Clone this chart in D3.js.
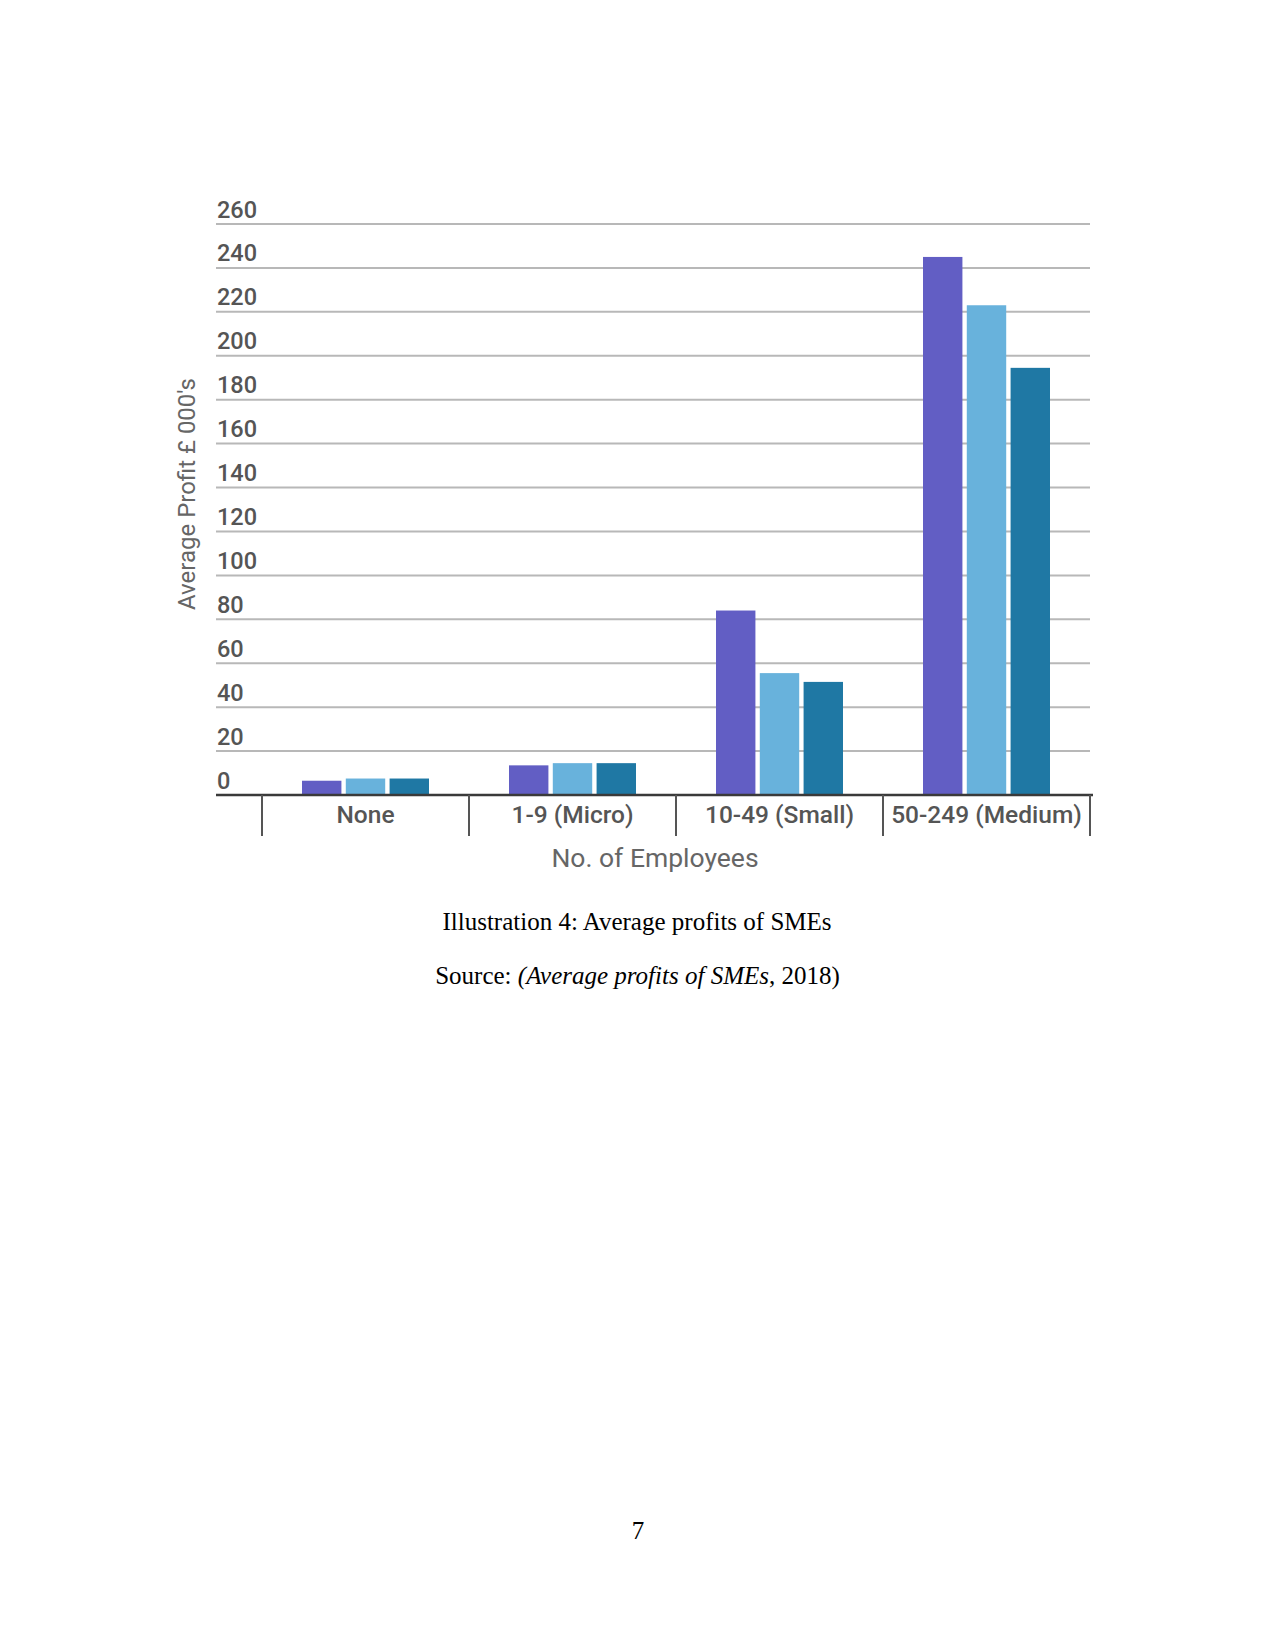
<!DOCTYPE html>
<html>
<head>
<meta charset="utf-8">
<script src="https://cdn.jsdelivr.net/npm/d3@7"></script>
<style>
  html, body { margin: 0; padding: 0; background: #fff; }
  svg { display: block; }
</style>
</head>
<body>
<script>
// ---- data ----
const categories = ["None", "1-9 (Micro)", "10-49 (Small)", "50-249 (Medium)"];
const seriesNames = ["Series 1", "Series 2", "Series 3"];
const series1 = [6.5, 13.5, 84, 245];
const series2 = [7.5, 14.5, 55.5, 223];
const series3 = [7.5, 14.5, 51.5, 194.5];
const yTicks = [0, 20, 40, 60, 80, 100, 120, 140, 160, 180, 200, 220, 240, 260];
const colors = ["#625EC4", "#68B2DC", "#1F78A4"];
const yTitle = "Average Profit £ 000's";
const xTitle = "No. of Employees";
const caption = "Illustration 4: Average profits of SMEs";
const pageNumber = "7";

const seriesValues = [series1, series2, series3];
const rows = categories.map((c, i) => ({
  category: c,
  values: seriesNames.map((s, j) => ({ series: s, idx: j, value: seriesValues[j][i] }))
}));

const W = 1275, H = 1651;
const svg = d3.select("body").append("svg").attr("width", W).attr("height", H);

const gridLeft = 216, gridRight = 1090;
const y = d3.scaleLinear().domain([0, 260]).range([795, 224]);
const x0 = d3.scaleBand().domain(categories).range([262, 1090]).padding(0);
const x1 = d3.scaleBand().domain(seriesNames).range([40, 167]).paddingInner(0.1);

// gridlines
svg.append("g").selectAll("line").data(yTicks.filter(d => d > 0)).join("line")
  .attr("x1", gridLeft).attr("x2", gridRight)
  .attr("y1", d => y(d)).attr("y2", d => y(d))
  .attr("stroke", "#b8b8b8").attr("stroke-width", 2);

// y tick labels
svg.append("g").selectAll("text").data(yTicks).join("text")
  .attr("x", 217).attr("y", d => y(d) - 6.5)
  .attr("font-family", "Roboto, sans-serif").attr("font-weight", 500)
  .attr("font-size", 23.5).attr("fill", "#555")
  .text(d => d);

// bars
const groups = svg.append("g").selectAll("g").data(rows).join("g")
  .attr("transform", d => `translate(${x0(d.category)},0)`);
groups.selectAll("rect").data(d => d.values).join("rect")
  .attr("x", d => x1(d.series))
  .attr("width", x1.bandwidth())
  .attr("y", d => y(d.value))
  .attr("height", d => y(0) - y(d.value))
  .attr("fill", d => colors[d.idx]);

// x axis
const xAxisG = svg.append("g");
xAxisG.append("line")
  .attr("x1", gridLeft).attr("x2", gridRight + 3)
  .attr("y1", y(0)).attr("y2", y(0))
  .attr("stroke", "#3a3a3a").attr("stroke-width", 2.5);
const boundaries = categories.map(c => x0(c)).concat([x0.range()[1]]);
xAxisG.selectAll("line.tick").data(boundaries).join("line")
  .attr("class", "tick")
  .attr("x1", d => d).attr("x2", d => d)
  .attr("y1", y(0)).attr("y2", 836)
  .attr("stroke", "#555").attr("stroke-width", 2);
xAxisG.selectAll("text").data(categories).join("text")
  .attr("x", d => x0(d) + x0.bandwidth() / 2)
  .attr("y", 823)
  .attr("text-anchor", "middle")
  .attr("font-family", "Roboto, sans-serif").attr("font-weight", 500)
  .attr("font-size", 24.5).attr("fill", "#555")
  .text(d => d);

// axis titles
svg.append("text")
  .attr("x", 655).attr("y", 867)
  .attr("text-anchor", "middle")
  .attr("font-family", "Roboto, sans-serif")
  .attr("font-size", 26.5).attr("fill", "#666")
  .text(xTitle);

svg.append("text")
  .attr("transform", "translate(195,494) rotate(-90)")
  .attr("text-anchor", "middle")
  .attr("font-family", "Roboto, sans-serif")
  .attr("font-size", 24).attr("fill", "#666")
  .text(yTitle);

// caption
const serif = "'Liberation Serif', 'Times New Roman', serif";
svg.append("text")
  .attr("x", 637).attr("y", 930)
  .attr("text-anchor", "middle")
  .attr("font-family", serif).attr("font-size", 25).attr("fill", "#000")
  .text(caption);

const src = svg.append("text")
  .attr("x", 637.5).attr("y", 984)
  .attr("text-anchor", "middle")
  .attr("font-family", serif).attr("font-size", 25).attr("fill", "#000");
src.append("tspan").text("Source: ");
src.append("tspan").attr("font-style", "italic").text("(Average profits of SMEs");
src.append("tspan").text(", 2018)");

svg.append("text")
  .attr("x", 638).attr("y", 1539)
  .attr("text-anchor", "middle")
  .attr("font-family", serif).attr("font-size", 25).attr("fill", "#000")
  .text(pageNumber);
</script>
</body>
</html>
